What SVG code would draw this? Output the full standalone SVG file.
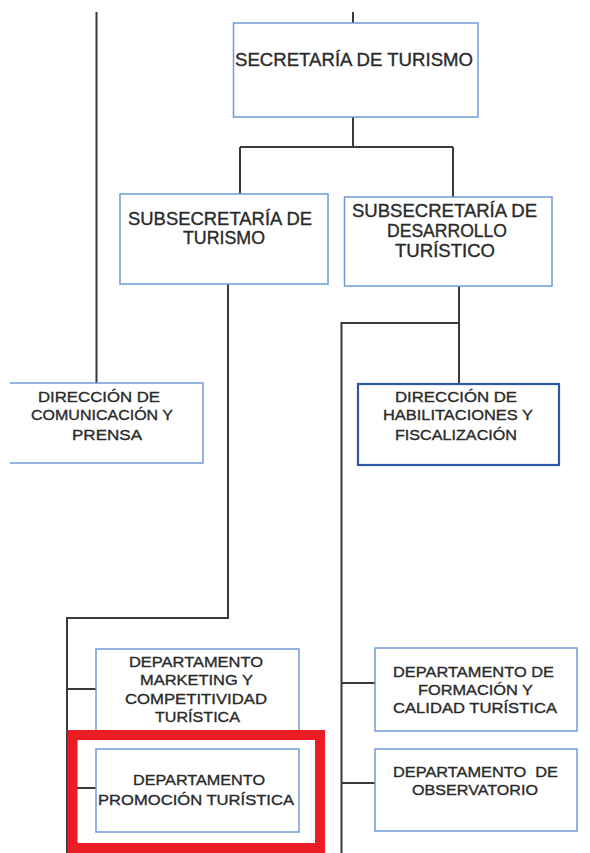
<svg xmlns="http://www.w3.org/2000/svg" width="590" height="853" viewBox="0 0 590 853">
<style>
.box{fill:#fff;stroke:#6f9ad8;stroke-width:1.5}
.boxd{fill:#fff;stroke:#2f57a8;stroke-width:2.2}
.ln{fill:none;stroke:#3a3a3a;stroke-width:2}
.t{font-family:"Liberation Sans",Arial,sans-serif;fill:#2a2a2a;stroke:#2a2a2a;stroke-width:0.35;text-anchor:middle}
.L{font-size:18px}
.S{font-size:15.5px}
</style>
<rect width="590" height="853" fill="#fff"/>
<g id="connectors">
<path class="ln" d="M96.5,12 V383"/>
<path class="ln" d="M353,12 V23"/>
<path class="ln" d="M353,117 V147 M240,147 H453 M240,147 V194 M453,147 V197"/>
<path class="ln" d="M228,284 V618 H67 V853"/>
<path class="ln" d="M67,689 H96 M67,788 H96"/>
<path class="ln" d="M459,286 V384 M459,323 H341.5 V853"/>
<path class="ln" d="M341.5,683 H375 M341.5,783 H375"/>
</g>
<g id="secretaria">
<rect class="box" x="233.5" y="23" width="244.5" height="94"/>
<text class="t L" x="354" y="66" textLength="238" lengthAdjust="spacingAndGlyphs">SECRETARÍA DE TURISMO</text>
</g>
<g id="subsecretaria-turismo">
<rect class="box" x="120" y="194" width="208" height="90"/>
<text class="t L" x="220" y="224.5" textLength="184" lengthAdjust="spacingAndGlyphs">SUBSECRETARÍA DE</text>
<text class="t L" x="224" y="244" textLength="82" lengthAdjust="spacingAndGlyphs">TURISMO</text>
</g>
<g id="subsecretaria-desarrollo">
<rect class="box" x="344.5" y="197" width="207.5" height="89"/>
<text class="t L" x="444.5" y="217" textLength="185" lengthAdjust="spacingAndGlyphs">SUBSECRETARÍA DE</text>
<text class="t L" x="447" y="237" textLength="120" lengthAdjust="spacingAndGlyphs">DESARROLLO</text>
<text class="t L" x="445" y="257" textLength="100" lengthAdjust="spacingAndGlyphs">TURÍSTICO</text>
</g>
<g id="direccion-comunicacion">
<path class="box" d="M10,383 H203 V463 H10"/>
<text class="t S" x="99" y="402" textLength="122" lengthAdjust="spacingAndGlyphs">DIRECCIÓN DE</text>
<text class="t S" x="102" y="420" textLength="142" lengthAdjust="spacingAndGlyphs">COMUNICACIÓN Y</text>
<text class="t S" x="107" y="440" textLength="70" lengthAdjust="spacingAndGlyphs">PRENSA</text>
</g>
<g id="direccion-habilitaciones">
<rect class="boxd" x="358" y="384" width="201" height="81"/>
<text class="t S" x="456" y="402" textLength="122" lengthAdjust="spacingAndGlyphs">DIRECCIÓN DE</text>
<text class="t S" x="458" y="420" textLength="150" lengthAdjust="spacingAndGlyphs">HABILITACIONES Y</text>
<text class="t S" x="456" y="440" textLength="122" lengthAdjust="spacingAndGlyphs">FISCALIZACIÓN</text>
</g>
<g id="dpto-marketing">
<rect class="box" x="96" y="649" width="203" height="84"/>
<text class="t S" x="196" y="667" textLength="134" lengthAdjust="spacingAndGlyphs">DEPARTAMENTO</text>
<text class="t S" x="196.5" y="685" textLength="113" lengthAdjust="spacingAndGlyphs">MARKETING Y</text>
<text class="t S" x="196" y="704" textLength="142" lengthAdjust="spacingAndGlyphs">COMPETITIVIDAD</text>
<text class="t S" x="197.5" y="722" textLength="85" lengthAdjust="spacingAndGlyphs">TURÍSTICA</text>
</g>
<g id="dpto-promocion">
<rect class="box" x="96" y="749" width="203" height="83"/>
<text class="t S" x="199" y="785" textLength="132" lengthAdjust="spacingAndGlyphs">DEPARTAMENTO</text>
<text class="t S" x="196" y="805" textLength="196" lengthAdjust="spacingAndGlyphs">PROMOCIÓN TURÍSTICA</text>
</g>
<g id="dpto-formacion">
<rect class="box" x="375" y="648" width="202" height="83"/>
<text class="t S" x="473.5" y="677" textLength="161" lengthAdjust="spacingAndGlyphs">DEPARTAMENTO DE</text>
<text class="t S" x="475.5" y="695" textLength="115" lengthAdjust="spacingAndGlyphs">FORMACIÓN Y</text>
<text class="t S" x="475" y="713" textLength="164" lengthAdjust="spacingAndGlyphs">CALIDAD TURÍSTICA</text>
</g>
<g id="dpto-observatorio">
<rect class="box" x="375" y="749" width="202" height="82"/>
<text class="t S" x="475.5" y="777" textLength="165" lengthAdjust="spacingAndGlyphs" xml:space="preserve">DEPARTAMENTO  DE</text>
<text class="t S" x="475" y="795" textLength="126" lengthAdjust="spacingAndGlyphs">OBSERVATORIO</text>
</g>
<g id="highlight">
<rect x="72.5" y="735" width="247.5" height="113" fill="none" stroke="#ec1c24" stroke-width="10"/>
</g>
</svg>
